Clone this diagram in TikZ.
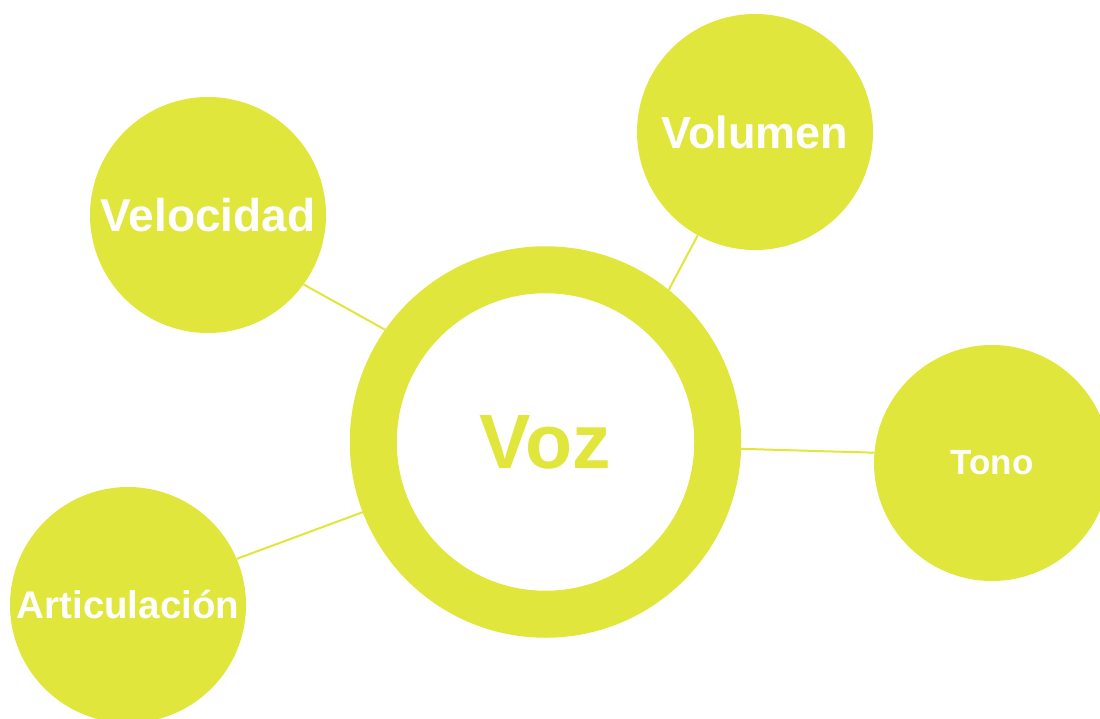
\documentclass[tikz,border=0pt]{standalone}
\usepackage{fontspec}
\setmainfont{Liberation Sans}
\usepackage{tikz}
\definecolor{lima}{RGB}{224,230,60}
\tikzset{
    tema/.style={circle,fill=lima,minimum size=236pt,inner sep=0pt,text=white,font=\bfseries},
    enlace/.style={draw=lima,line width=2pt}
}

\begin{document}
\begin{tikzpicture}[x=1pt,y=-1pt]
    \useasboundingbox (0,0) rectangle (1100,719);
    \clip (0,0) rectangle (1100,719);

    \node[circle,draw=lima,line width=47pt,minimum size=344.5pt,inner sep=0pt,text=lima,font=\fontsize{77}{80}\bfseries\selectfont] (voz) at (545.5,442) {Voz};

    \node[tema,font=\fontsize{46}{50}\bfseries\selectfont] (velocidad) at (208,215) {Velocidad};
    \node[tema,font=\fontsize{45}{50}\bfseries\selectfont] (volumen) at (755,132) {Volumen};
    \node[tema,font=\fontsize{35}{40}\bfseries\selectfont] (tono) at (992,463) {Tono};
    \node[tema,font=\fontsize{38.5}{42}\bfseries\selectfont] (articulacion) at (128,605) {Articulación};

    \draw[enlace] (voz.145.8) -- (velocidad.-36.8);
    \draw[enlace] (voz.51.7) -- (volumen.241.3);
    \draw[enlace] (voz.-2.9) -- (tono.175.2);
    \draw[enlace] (voz.201.9) -- (articulacion.23.3);
\end{tikzpicture}
\end{document}
